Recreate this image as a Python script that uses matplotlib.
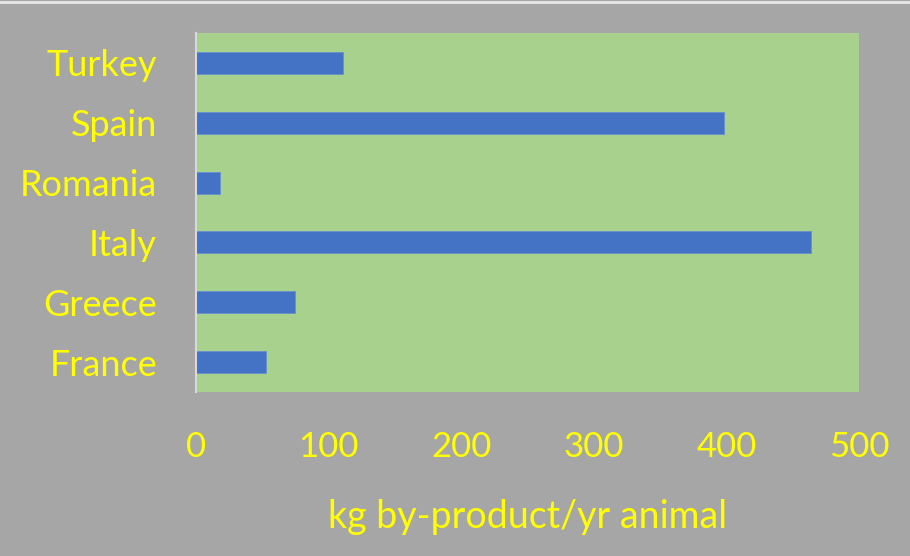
import matplotlib.pyplot as plt
from matplotlib.lines import Line2D

countries = ['France', 'Greece', 'Italy', 'Romania', 'Spain', 'Turkey']
by_product = [53, 75, 464, 18, 398, 111]
x_ticks = [0, 100, 200, 300, 400, 500]

fig = plt.figure(figsize=(9.1, 5.56), dpi=100, facecolor='#a6a6a6')
ax = fig.add_axes([196 / 910, 1 - 392 / 556, 663 / 910, 359 / 556])
ax.set_facecolor('#a9d18e')

ax.barh(countries, by_product, height=0.37, color='#4472c4',
        edgecolor='#6a8fd0', linewidth=0.6)

ax.set_xlim(0, 500)
ax.set_ylim(-0.5, len(countries) - 0.5)
ax.set_xticks(x_ticks)
ax.tick_params(axis='both', length=0, labelcolor='#ffff00')
ax.tick_params(axis='x', pad=28, labelsize=25)
ax.tick_params(axis='y', pad=28, labelsize=26)
for label in ax.get_xticklabels() + ax.get_yticklabels():
    label.set_family('Lato')

for side in ['top', 'right', 'bottom']:
    ax.spines[side].set_visible(False)
ax.spines['left'].set_color('#d9d9d9')
ax.spines['left'].set_linewidth(1.5)

ax.set_xlabel('kg by-product/yr animal', fontsize=27, color='#ffff00',
              family='Lato', labelpad=26)

# light strip along the top edge of the picture
fig.add_artist(Line2D([0, 1], [0.997, 0.997], transform=fig.transFigure,
                      color='#e6e6e6', linewidth=2))

fig.savefig('out.png', dpi=100, facecolor=fig.get_facecolor())
